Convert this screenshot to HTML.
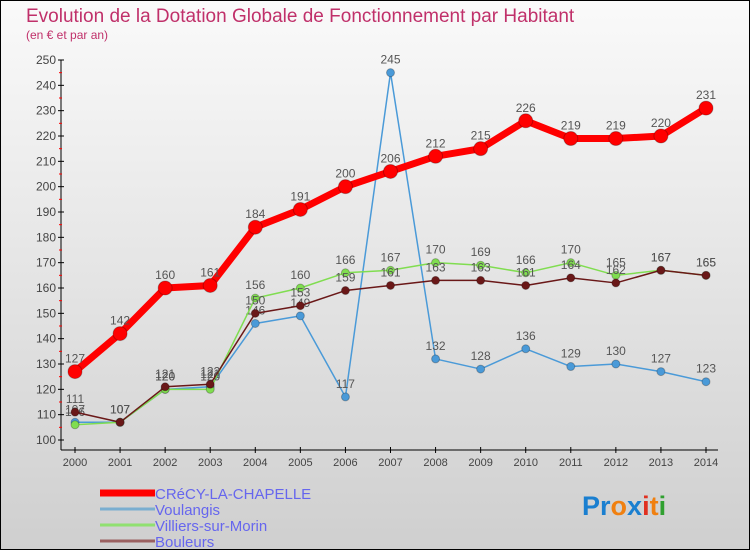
<!DOCTYPE html>
<html><head><meta charset="utf-8"><style>
body{margin:0}
svg text{font-family:"Liberation Sans",sans-serif}
</style></head><body>
<svg id="c" width="750" height="550" xmlns="http://www.w3.org/2000/svg">
<defs><linearGradient id="bg" x1="0" y1="0" x2="0" y2="1"><stop offset="0" stop-color="#fafafa"/><stop offset="1" stop-color="#cfcfcf"/></linearGradient></defs>
<rect x="0.5" y="0.5" width="749" height="549" fill="url(#bg)" stroke="#000"/>
<text x="26" y="22" font-size="19" fill="#c0306a">Evolution de la Dotation Globale de Fonctionnement par Habitant</text>
<text x="26" y="39" font-size="12" fill="#c0306a">(en € et par an)</text>
<g id="axes"></g><g id="series"></g><g id="legend"></g>
<text x="582" y="515" font-size="27" font-weight="bold"><tspan fill="#1a7fd0">Pr</tspan><tspan fill="#f08010">o</tspan><tspan fill="#1a7fd0">x</tspan><tspan fill="#e03020">i</tspan><tspan fill="#f08010">t</tspan><tspan fill="#30a030">i</tspan></text>
</svg>
<script>
const years=[2000,2001,2002,2003,2004,2005,2006,2007,2008,2009,2010,2011,2012,2013,2014];
const yTicks=[100,110,120,130,140,150,160,170,180,190,200,210,220,230,240,250];
const crecy=[127,142,160,161,184,191,200,206,212,215,226,219,219,220,231];
const voulangis=[107,107,120,121,146,149,117,245,132,128,136,129,130,127,123];
const villiers=[106,107,120,120,156,160,166,167,170,169,166,170,165,167,165];
const bouleurs=[111,107,121,122,150,153,159,161,163,163,161,164,162,167,165];
const NS="http://www.w3.org/2000/svg";
const x=i=>75+i*(706-75)/14;
const y=v=>440-(v-100)*(380/150);
function mk(p,t,a){const e=document.createElementNS(NS,t);for(const k in a)e.setAttribute(k,a[k]);p.appendChild(e);return e;}
const ax=document.getElementById('axes');
let e=mk(ax,'line',{x1:61,y1:60,x2:61,y2:450,stroke:'#000'});

e=mk(ax,'line',{x1:61,y1:450,x2:718,y2:450,stroke:'#000'});

yTicks.forEach(v=>{
 mk(ax,'line',{x1:58,y1:y(v),x2:64,y2:y(v),stroke:'#000'});
 if(v<250)mk(ax,'line',{x1:59,y1:y(v+5),x2:62,y2:y(v+5),stroke:'#f00'});
 const t=mk(ax,'text',{x:56,y:y(v)+4,'font-size':12,'text-anchor':'end',fill:'#444'});t.textContent=v;
 
});
years.forEach((yr,i)=>{
 mk(ax,'line',{x1:x(i),y1:447,x2:x(i),y2:453,stroke:'#000'});
 const t=mk(ax,'text',{x:x(i),y:466,'font-size':11,'text-anchor':'middle',fill:'#444'});t.textContent=yr;
 
});
const S=document.getElementById('series');
const defs=[
 {d:voulangis,c:'#4a9ad8',w:1.5,r:4,n:'voulangis'},
 {d:villiers,c:'#80dd50',w:1.5,r:4,n:'villiers-sur-morin'},
 {d:bouleurs,c:'#6a1818',w:1.5,r:4,n:'bouleurs'},
 {d:crecy,c:'#f00',w:7,r:7,n:'crecy-la-chapelle'}];
defs.forEach(s=>{
 const g=mk(S,'g',{});
 
 const pl=mk(g,'polyline',{points:s.d.map((v,i)=>x(i)+','+y(v)).join(' '),fill:'none',stroke:s.c,'stroke-width':s.w,'stroke-linejoin':'round'});
 
 s.d.forEach((v,i)=>{
  const c=mk(g,'circle',{cx:x(i),cy:y(v),r:s.r,fill:s.c,stroke:'rgba(0,0,0,0.25)'});
  
  const t=mk(g,'text',{x:x(i),y:y(v)-9,'font-size':12,'text-anchor':'middle',fill:'#555'});t.textContent=v;
  
 });
});
const L=document.getElementById('legend');
[['CRéCY-LA-CHAPELLE','#f00',7],['Voulangis','#7aaed0',3],['Villiers-sur-Morin','#90e070',3],['Bouleurs','#9a6060',3]].forEach((l,i)=>{
 const yy=493+i*16;
 const ln=mk(L,'line',{x1:100,y1:yy,x2:155,y2:yy,stroke:l[1],'stroke-width':l[2]});
 
 const t=mk(L,'text',{x:155,y:yy+6,'font-size':15,fill:'#6666ee'});t.textContent=l[0];
 
});
</script>
</body></html>
